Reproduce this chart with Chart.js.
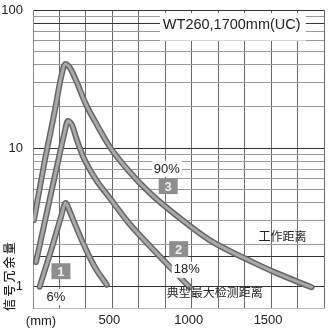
<!DOCTYPE html>
<html>
<head>
<meta charset="utf-8">
<script src="https://cdn.jsdelivr.net/npm/chart.js@4.4.0/dist/chart.umd.min.js"></script>
<style>
    html, body { margin: 0; padding: 0; background: #fff; }
    canvas { display: block; }
</style>
</head>
<body>
<canvas id="chart" width="329" height="328"></canvas>
<script>
// 检测距离 (mm) 与 信号冗余量, 三条曲线 (1: 6%, 2: 18%, 3: 90%)
const curve1X = [42, 124, 176, 206, 233, 262, 325, 388, 465];
const curve1Y = [0.99, 1.98, 3.16, 4.0, 3.44, 2.85, 1.93, 1.38, 1.02];

const curve2X = [19, 88, 157, 195, 220, 245, 277, 314, 390, 484, 598, 767, 987];
const curve2Y = [1.49, 3.44, 7.92, 12.4, 15.7, 14.7, 11.4, 8.75, 6.06, 4.34, 2.91, 1.79, 0.98];

const curve3X = [6, 69, 138, 176, 204, 233, 270, 333, 403, 484, 598, 736, 893, 1113, 1384, 1535, 1755];
const curve3Y = [3.01, 7.53, 18.8, 32.2, 40.6, 38.0, 31.1, 20.8, 14.7, 10.2, 6.93, 4.72, 3.32, 2.15, 1.49, 1.24, 0.98];

const seriesNames = ['1', '2', '3'];
const seriesPercents = ['6%', '18%', '90%'];

// 刻度
const xTickValues = [500, 1000, 1500];
const xTickLabels = ['500', '1000', '1500'];
const xGridCount = 11;            // 网格线间隔数
const xGridStep = 500 / 3;
const yTickValues = [1, 10, 100];
const yTickLabels = ['1', '10', '100'];
const yGridValues = [1, 1.65, 2, 3, 4, 5, 6, 7, 8, 9, 10, 20, 30, 40, 50, 60, 70, 80, 90, 100];
const yDarkValues = [1, 1.65, 10, 80, 100];

const chartTitle = 'WT260,1700mm(UC)';
const yTitle = '信号冗余量';
const xUnit = '(mm)';
const workLabel = '工作距离';
const maxLabel = '典型最大检测距离';

const toPoints = (xs, ys) => xs.map((v, i) => ({ x: v, y: ys[i] }));
const curves = [
    toPoints(curve1X, curve1Y),
    toPoints(curve2X, curve2Y),
    toPoints(curve3X, curve3Y),
];

const lineStyle = {
    pointRadius: 0,
    fill: false,
    cubicInterpolationMode: 'monotone',
    borderCapStyle: 'round',
    borderJoinStyle: 'round',
};

// 内层浅灰在上, 外层深灰描边在下
const datasets = [
    ...curves.map((data, i) => ({ ...lineStyle, label: seriesNames[i], data, borderColor: '#a9a9a9', borderWidth: 3 })),
    ...curves.map((data, i) => ({ ...lineStyle, label: seriesNames[i] + '_edge', data, borderColor: '#666', borderWidth: 6 })),
];

const fontLatin = 'Liberation Sans, Arial, sans-serif';
const fontCjk = '"Noto Sans CJK SC", sans-serif';

function textWithBg(ctx, text, cx, cy) {
    const w = ctx.measureText(text).width;
    ctx.fillStyle = '#fff';
    ctx.fillRect(cx - w / 2 - 2, cy - 8, w + 4, 16);
    ctx.fillStyle = '#222';
    ctx.fillText(text, cx, cy);
}

function numberBox(ctx, text, cx, cy) {
    ctx.fillStyle = '#8e8e8e';
    ctx.fillRect(cx - 9.5, cy - 8, 19, 16);
    ctx.fillStyle = '#eee';
    ctx.font = 'bold 13px ' + fontLatin;
    ctx.fillText(text, cx, cy + 1);
}

const annotations = {
    id: 'annotations',
    afterDatasetsDraw(chart) {
        const { ctx, scales: { x, y } } = chart;
        const px = (v) => x.getPixelForValue(v);
        const py = (v) => y.getPixelForValue(v);
        ctx.save();
        ctx.textAlign = 'center';
        ctx.textBaseline = 'middle';

        // 型号标题
        ctx.font = '14.5px ' + fontLatin;
        const tw = ctx.measureText(chartTitle).width;
        ctx.fillStyle = '#fff';
        ctx.fillRect(px(800), py(95), tw + 8, py(60) - py(95));
        ctx.fillStyle = '#222';
        ctx.textAlign = 'left';
        ctx.fillText(chartTitle, px(818), py(78));
        ctx.textAlign = 'center';

        // 百分比
        ctx.font = '13px ' + fontLatin;
        textWithBg(ctx, seriesPercents[2], px(843), py(7.05));
        textWithBg(ctx, seriesPercents[1], px(969), py(1.31));
        textWithBg(ctx, seriesPercents[0], px(145), py(0.83));

        // 曲线编号
        numberBox(ctx, seriesNames[2], px(852), py(5.3));
        numberBox(ctx, seriesNames[1], px(918), py(1.85));
        numberBox(ctx, seriesNames[0], px(176), py(1.28));

        // 中文说明
        ctx.font = '12px ' + fontCjk;
        ctx.fillStyle = '#222';
        ctx.fillText(workLabel, px(1572), py(2.3));
        ctx.fillText(maxLabel, px(1145), py(0.905));
        ctx.restore();
    },
    afterDraw(chart) {
        const { ctx } = chart;
        ctx.save();
        ctx.fillStyle = '#222';
        ctx.textAlign = 'center';
        ctx.textBaseline = 'middle';

        // 单位
        ctx.font = '13px ' + fontLatin;
        ctx.fillText(xUnit, 41, 321);

        // 纵轴标题, 从下往上逐字排列
        ctx.translate(9, 311);
        ctx.rotate(-Math.PI / 2);
        ctx.font = '500 12px ' + fontCjk;
        Array.from(yTitle).forEach((ch, i) => {
            ctx.fillText(ch, 6 + i * 14.2, 0);
        });
        ctx.restore();
    },
};

const findLabel = (values, labels, value) => {
    const idx = values.findIndex((v) => Math.abs(v - value) < 1e-6 * v);
    return idx >= 0 ? labels[idx] : '';
};

new Chart(document.getElementById('chart'), {
    type: 'line',
    data: { datasets },
    plugins: [annotations],
    options: {
        responsive: false,
        animation: false,
        layout: { padding: { top: 10, right: 5, left: 0, bottom: 0 } },
        plugins: {
            legend: { display: false },
            tooltip: { enabled: false },
        },
        scales: {
            x: {
                type: 'linear',
                min: 0,
                max: xGridStep * xGridCount,
                afterBuildTicks: (scale) => {
                    scale.ticks = Array.from({ length: xGridCount + 1 }, (_, i) => ({ value: i * xGridStep }));
                },
                afterFit: (scale) => {
                    scale.height = 20;
                    scale.paddingLeft = 0;
                    scale.paddingRight = 0;
                },
                grid: { color: '#6a6a6a', lineWidth: 1, drawTicks: false },
                border: { color: '#bbb' },
                ticks: {
                    autoSkip: false,
                    maxRotation: 0,
                    padding: 5,
                    labelOffset: -3,
                    color: '#222',
                    font: { size: 13, family: fontLatin },
                    callback: (value) => findLabel(xTickValues, xTickLabels, value),
                },
            },
            y: {
                type: 'logarithmic',
                min: 0.693,
                max: 100,
                afterBuildTicks: (scale) => {
                    scale.ticks = yGridValues.map((v) => ({ value: v }));
                },
                afterFit: (scale) => {
                    scale.width = 33;
                    scale.paddingTop = 0;
                    scale.paddingBottom = 0;
                },
                grid: {
                    drawTicks: false,
                    lineWidth: 1,
                    color: (c) => (yDarkValues.includes(c.tick && c.tick.value) ? '#333' : '#9a9a9a'),
                },
                border: { color: '#888' },
                ticks: {
                    autoSkip: false,
                    padding: 10,
                    color: '#222',
                    font: { size: 13, family: fontLatin },
                    callback: (value) => findLabel(yTickValues, yTickLabels, value),
                },
            },
        },
    },
});
</script>
</body>
</html>
